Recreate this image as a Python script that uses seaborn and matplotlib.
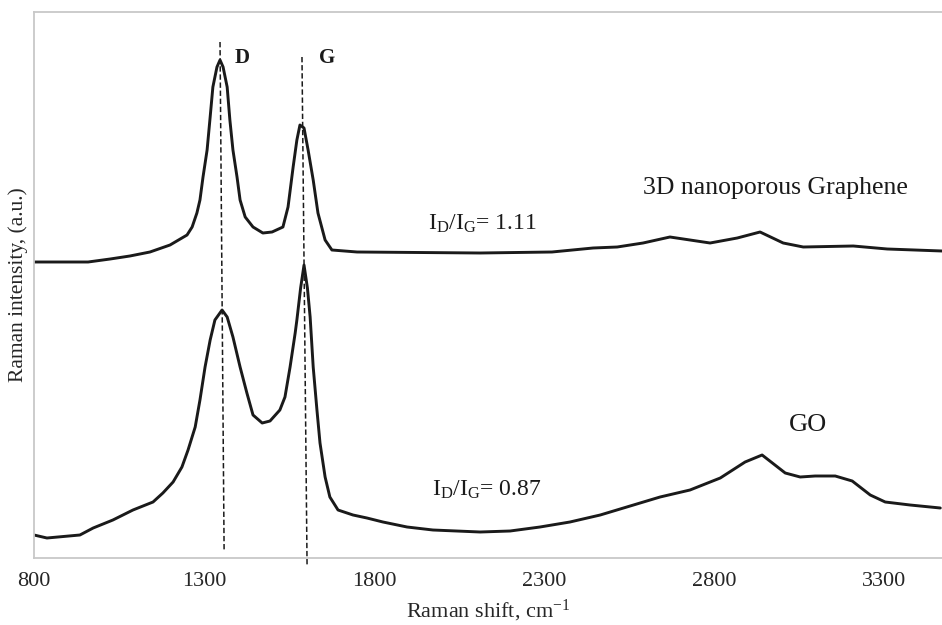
import numpy as np
import pandas as pd
import seaborn as sns
import matplotlib
matplotlib.use("Agg")
import matplotlib.pyplot as plt

# ---- data ----
graphene_shift = [800, 959, 1024, 1082, 1141, 1200, 1250, 1265, 1279, 1288, 1297, 1309,
                  1318, 1326, 1338, 1347, 1356, 1368, 1376, 1385, 1397, 1406, 1421, 1444,
                  1473, 1500, 1532, 1547, 1562, 1573, 1582, 1594, 1606, 1621, 1635, 1656,
                  1676, 1750, 2112, 2323, 2444, 2515, 2591, 2670, 2788, 2868, 2935, 3003,
                  3062, 3209, 3309, 3470]
graphene_int = [296, 296, 299, 302, 306, 313, 323, 331, 345, 358, 381, 408,
                441, 471, 491, 498, 491, 471, 438, 408, 381, 358, 341, 331,
                325, 326, 331, 351, 391, 418, 433, 430, 408, 378, 345, 318,
                308, 306, 305, 306, 310, 311, 315, 321, 315, 320, 326, 315,
                311, 312, 309, 307]

go_shift = [800, 838, 935, 974, 1032, 1091, 1150, 1179, 1209, 1235, 1253, 1274, 1288,
            1303, 1318, 1332, 1353, 1368, 1385, 1406, 1426, 1444, 1471, 1494, 1523,
            1538, 1553, 1568, 1573, 1584, 1594, 1604, 1612, 1621, 1632, 1641, 1656,
            1670, 1694, 1738, 1779, 1826, 1897, 1973, 2112, 2200, 2288, 2376, 2465,
            2553, 2641, 2729, 2818, 2891, 2941, 3009, 3053, 3097, 3156, 3206, 3259,
            3303, 3376, 3465]
go_int = [23, 20, 23, 30, 38, 48, 56, 65, 76, 91, 108, 131, 158,
          191, 218, 238, 248, 241, 221, 191, 165, 143, 135, 137, 148,
          161, 191, 225, 238, 270, 293, 270, 241, 191, 148, 115, 81,
          61, 48, 43, 40, 36, 31, 28, 26, 27, 31, 36, 43,
          52, 61, 68, 80, 96, 103, 85, 81, 82, 82, 77, 63,
          56, 53, 50]

# guide lines for D and G bands (top point, bottom point)
d_line_shift = [1347, 1359]
d_line_int = [516, 8]
g_line_shift = [1588, 1603]
g_line_int = [501, -9]

x_ticks = [800, 1300, 1800, 2300, 2800, 3300]

# ---- style ----
sns.set_theme(style="white")
plt.rcParams['font.family'] = ['Liberation Serif', 'DejaVu Serif']
plt.rcParams['mathtext.fontset'] = 'custom'
plt.rcParams['mathtext.rm'] = 'Liberation Serif'
plt.rcParams['mathtext.it'] = 'Liberation Serif:italic'
plt.rcParams['mathtext.bf'] = 'Liberation Serif:bold'

ink = "#1a1a1a"
fig = plt.figure(figsize=(9.42, 6.25), dpi=100)
ax = fig.add_axes([34 / 942, 67 / 625, 1 - 34 / 942, (558 - 12) / 625])

df_g = pd.DataFrame({"shift": graphene_shift, "intensity": graphene_int})
df_o = pd.DataFrame({"shift": go_shift, "intensity": go_int})
sns.lineplot(data=df_g, x="shift", y="intensity", ax=ax, color=ink, lw=2.1, sort=False)
sns.lineplot(data=df_o, x="shift", y="intensity", ax=ax, color=ink, lw=2.1, sort=False)

ax.plot(d_line_shift, d_line_int, color=ink, lw=1.1, ls=(0, (3.5, 1.8)), clip_on=False)
ax.plot(g_line_shift, g_line_int, color=ink, lw=1.1, ls=(0, (3.5, 1.8)), clip_on=False)

ax.set_xlim(800, 3470)
ax.set_ylim(0, 546)
ax.set_xticks(x_ticks)
ax.set_xticklabels([str(t) for t in x_ticks], fontsize=16, color="#262626")
ax.set_yticks([])
ax.tick_params(axis='x', direction='in', length=6, width=1, color="#c8c8c8", pad=10)

for s in ['left', 'top', 'bottom']:
    ax.spines[s].set_color("#c8c8c8")
    ax.spines[s].set_linewidth(1.3)
ax.spines['right'].set_visible(False)

ax.set_xlabel("Raman shift, cm$^{-1}$", fontsize=16, color="#262626", labelpad=5)
ax.set_ylabel("Raman intensity, (a.u.)", fontsize=15.5, color="#262626", labelpad=4)

# annotations
ax.text(1412, 500, "D", fontsize=15, fontweight='bold', ha='center', va='center', color=ink)
ax.text(1662, 500, "G", fontsize=15, fontweight='bold', ha='center', va='center', color=ink)
ax.text(2979, 370, "3D nanoporous Graphene", fontsize=18.5, ha='center', va='center', color=ink)
ax.text(1959, 334, r"I$_\mathrm{D}$/I$_\mathrm{G}$= 1.11", fontsize=17, ha='left', va='center', color=ink)
ax.text(1971, 68, r"I$_\mathrm{D}$/I$_\mathrm{G}$= 0.87", fontsize=17, ha='left', va='center', color=ink)
ax.text(3076, 133, "GO", fontsize=19, ha='center', va='center', color=ink)

fig.savefig("out.png", dpi=100)
